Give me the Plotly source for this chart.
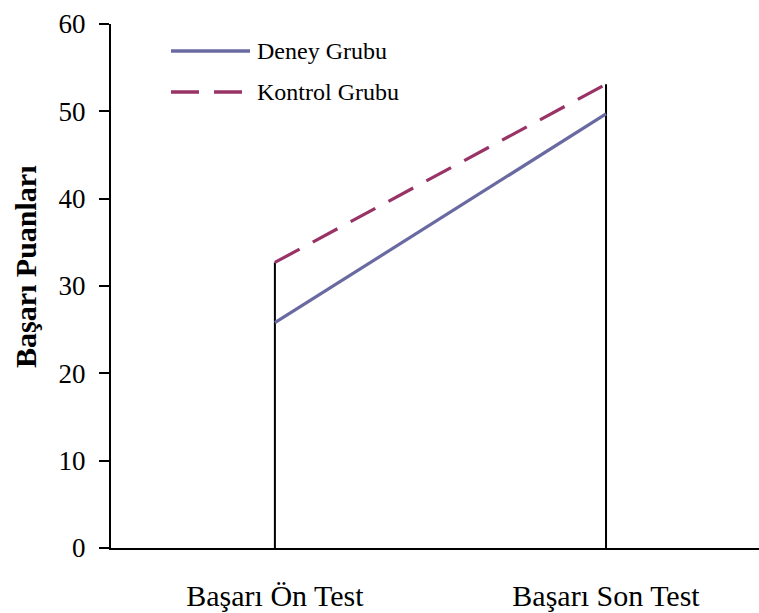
import plotly.graph_objects as go

categories = ["Başarı Ön Test", "Başarı Son Test"]
deney = [25.8, 49.7]
kontrol = [32.7, 53.1]
series_names = ["Deney Grubu", "Kontrol Grubu"]
y_ticks = [0, 10, 20, 30, 40, 50, 60]
y_title = "Başarı Puanları"

DENEY_COLOR = "#6A6AA2"
KONTROL_COLOR = "#993366"
FONT = "Liberation Serif, Times New Roman, serif"
DASH = "28px,15px"

xs = [0, 1]

fig = go.Figure()

# drop lines from the highest value of each category down to zero
drop_x, drop_y = [], []
for i, x in enumerate(xs):
    hi = max(deney[i], kontrol[i])
    drop_x += [x, x, None]
    drop_y += [0, hi, None]
fig.add_trace(go.Scatter(x=drop_x, y=drop_y, mode="lines",
                         line=dict(color="black", width=2),
                         showlegend=False, hoverinfo="skip"))

fig.add_trace(go.Scatter(x=xs, y=deney, mode="lines", name=series_names[0],
                         line=dict(color=DENEY_COLOR, width=3.2),
                         showlegend=False))
fig.add_trace(go.Scatter(x=xs, y=kontrol, mode="lines", name=series_names[1],
                         line=dict(color=KONTROL_COLOR, width=3.2, dash=DASH),
                         showlegend=False))

W, H = 759, 613
PL, PR, PT, PB = 111, 759, 24, 548  # plot area in page pixels

def px(xp):
    return (xp - PL) / (PR - PL)

def py(yp):
    return 1 - (yp - PT) / (PB - PT)

legend_items = [
    (series_names[0], DENEY_COLOR, "solid", 51),
    (series_names[1], KONTROL_COLOR, DASH, 92),
]
for name, color, dash, ypix in legend_items:
    fig.add_shape(type="line", xref="paper", yref="paper",
                  x0=px(171), x1=px(250), y0=py(ypix), y1=py(ypix),
                  line=dict(color=color, width=3.4, dash=dash))
    fig.add_annotation(xref="paper", yref="paper", x=px(255), y=py(ypix),
                       text=name, showarrow=False, xanchor="left", yanchor="middle",
                       font=dict(family=FONT, size=24, color="black"))

fig.add_annotation(xref="paper", yref="paper", x=px(25), y=py(267),
                   text="<b>" + y_title + "</b>", textangle=-90, showarrow=False,
                   xanchor="center", yanchor="middle",
                   font=dict(family=FONT, size=30, color="black"))

fig.update_layout(
    width=W, height=H,
    margin=dict(l=PL, r=W - PR, t=PT, b=H - PB, autoexpand=False),
    paper_bgcolor="white", plot_bgcolor="white",
    font=dict(family=FONT, color="black"),
    showlegend=False,
    xaxis=dict(
        range=[-0.495, 1.462],
        tickmode="array", tickvals=xs, ticktext=categories,
        showgrid=False, zeroline=False,
        showline=True, linecolor="black", linewidth=2,
        ticks="", ticklabelstandoff=20,
        tickfont=dict(family=FONT, size=30, color="black"),
    ),
    yaxis=dict(
        range=[0, 60],
        tickmode="array", tickvals=y_ticks,
        showgrid=False, zeroline=False,
        showline=True, linecolor="black", linewidth=2,
        ticks="outside", ticklen=10, tickwidth=2, tickcolor="black",
        ticklabelstandoff=8,
        tickfont=dict(family=FONT, size=27, color="black"),
    ),
)

fig.write_html(
    "out.html",
    config={"displayModeBar": False},
    post_script="document.body.style.margin='0';document.body.style.overflow='hidden';",
)
